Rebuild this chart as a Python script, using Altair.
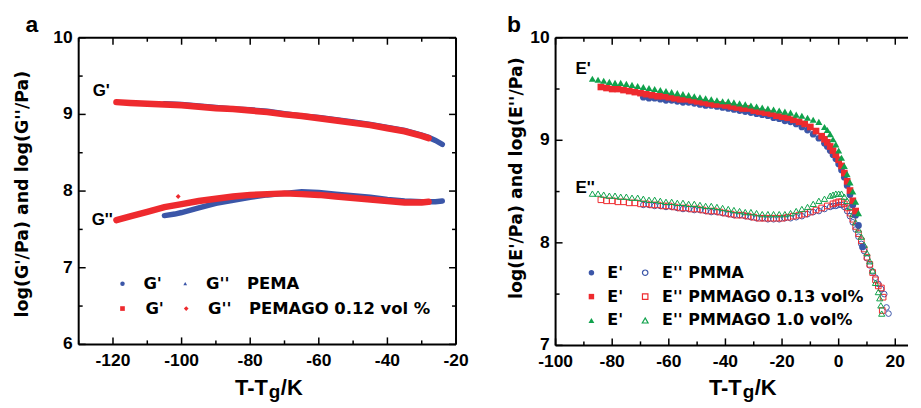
import altair as alt
import pandas as pd

# ---------------- Panel a: PEMA / PEMAGO (shear moduli) ----------------
a_gp_pema_x = [-105, -100, -95, -90, -85, -80, -75, -70, -65, -60, -55, -50, -45, -40, -35, -30, -28, -26, -24]
a_gp_pema_y = [9.14, 9.13, 9.11, 9.09, 9.07, 9.06, 9.04, 9.01, 8.98, 8.96, 8.93, 8.90, 8.87, 8.83, 8.79, 8.73, 8.70, 8.66, 8.61]

a_gpp_pema_x = [-105, -102, -100, -95, -90, -85, -80, -75, -70, -65, -60, -55, -50, -45, -40, -35, -30, -26, -24]
a_gpp_pema_y = [7.68, 7.70, 7.72, 7.78, 7.84, 7.88, 7.92, 7.95, 7.97, 7.99, 7.98, 7.96, 7.94, 7.92, 7.89, 7.87, 7.86, 7.86, 7.87]

a_gp_go_x = [-119, -115, -110, -105, -100, -95, -90, -85, -80, -75, -70, -65, -60, -55, -50, -45, -40, -35, -30, -28]
a_gp_go_y = [9.16, 9.15, 9.14, 9.13, 9.12, 9.10, 9.08, 9.07, 9.05, 9.03, 9.00, 8.98, 8.95, 8.92, 8.89, 8.86, 8.82, 8.78, 8.72, 8.69]

a_gpp_go_x = [-119, -115, -110, -105, -100, -95, -90, -85, -80, -75, -70, -65, -60, -55, -50, -45, -40, -35, -30, -28]
a_gpp_go_y = [7.62, 7.67, 7.73, 7.79, 7.83, 7.87, 7.90, 7.93, 7.95, 7.96, 7.97, 7.96, 7.95, 7.93, 7.91, 7.89, 7.87, 7.85, 7.85, 7.86]

a_outlier_x = [-101]
a_outlier_y = [7.93]

# ---------------- Panel b: PMMA / PMMAGO (tensile moduli) ----------------
b_ep_go10_x = [-87, -85, -83, -81, -79, -77, -75, -73, -71, -69, -67, -65, -63, -61, -59, -57, -55, -53, -51, -49,
               -47, -45, -43, -41, -39, -37, -35, -33, -31, -29, -27, -25, -23, -21, -19, -17, -15, -13, -11, -9,
               -7, -5, -4, -3, -2, -1, 0, 1, 2, 3, 4, 5, 6, 7]
b_ep_go10_y = [9.60, 9.59, 9.58, 9.57, 9.56, 9.56, 9.55, 9.54, 9.53, 9.52, 9.51, 9.50, 9.49, 9.48, 9.47, 9.46, 9.45, 9.44, 9.43, 9.42,
               9.41, 9.40, 9.39, 9.38, 9.38, 9.37, 9.36, 9.35, 9.34, 9.33, 9.32, 9.31, 9.30, 9.29, 9.28, 9.27, 9.25, 9.24, 9.22, 9.20,
               9.18, 9.13, 9.10, 9.06, 9.01, 8.96, 8.90, 8.83, 8.75, 8.67, 8.59, 8.50, 8.40, 8.29]

b_ep_go013_x = [-84, -82, -80, -78, -76, -74, -72, -70, -68, -66, -64, -62, -60, -58, -56, -54, -52, -50, -48, -46,
                -44, -42, -40, -38, -36, -34, -32, -30, -28, -26, -24, -22, -20, -18, -16, -14, -12, -10, -8, -6,
                -5, -4, -3, -2, -1, 0, 1, 2, 3, 4, 5, 6]
b_ep_go013_y = [9.52, 9.51, 9.50, 9.50, 9.49, 9.48, 9.47, 9.46, 9.45, 9.44, 9.43, 9.43, 9.42, 9.41, 9.40, 9.40, 9.39, 9.38, 9.37, 9.36,
                9.35, 9.35, 9.34, 9.33, 9.32, 9.31, 9.31, 9.29, 9.28, 9.27, 9.26, 9.24, 9.23, 9.22, 9.20, 9.18, 9.16, 9.13, 9.09, 9.04,
                9.01, 8.98, 8.94, 8.90, 8.86, 8.81, 8.75, 8.68, 8.60, 8.51, 8.41, 8.31]

b_ep_pmma_x = [-69, -67, -65, -63, -61, -59, -57, -55, -53, -51, -49, -47, -45, -43, -41, -39, -37, -35, -33, -31,
               -29, -27, -25, -23, -21, -19, -17, -15, -13, -11, -9, -7, -5, -4, -3, -2, -1, 0, 1, 2,
               3, 4, 5, 6, 7, 8.4]
b_ep_pmma_y = [9.42, 9.41, 9.41, 9.40, 9.39, 9.39, 9.38, 9.37, 9.37, 9.36, 9.35, 9.34, 9.34, 9.33, 9.32, 9.31, 9.30, 9.29, 9.28, 9.27,
               9.26, 9.25, 9.24, 9.22, 9.21, 9.19, 9.18, 9.16, 9.13, 9.10, 9.06, 9.02, 8.97, 8.94, 8.90, 8.86, 8.82, 8.77, 8.71, 8.64,
               8.56, 8.47, 8.37, 8.27, 8.17, 7.96]

b_epp_go10_x = [-87, -85, -83, -81, -79, -77, -75, -73, -71, -69, -67, -65, -63, -61, -59, -57, -55, -53, -51, -49,
                -47, -45, -43, -41, -39, -37, -35, -33, -31, -29, -27, -25, -23, -21, -19, -17, -15, -13, -11, -9,
                -7, -5, -3, -2, -1, 0, 1, 2, 3, 4, 5, 6, 7, 8, 9, 10, 11, 12, 13, 14,
                14.5, 14.9, 15.2]
b_epp_go10_y = [8.48, 8.48, 8.47, 8.46, 8.46, 8.45, 8.45, 8.44, 8.44, 8.43, 8.42, 8.42, 8.41, 8.40, 8.40, 8.39, 8.39, 8.38, 8.38, 8.37,
                8.36, 8.36, 8.35, 8.34, 8.33, 8.32, 8.31, 8.30, 8.30, 8.29, 8.28, 8.28, 8.28, 8.28, 8.28, 8.29, 8.31, 8.33, 8.35, 8.38,
                8.41, 8.43, 8.46, 8.47, 8.48, 8.48, 8.48, 8.45, 8.41, 8.35, 8.28, 8.20, 8.13, 8.06, 7.98, 7.90, 7.82, 7.73, 7.61, 7.52,
                7.46, 7.39, 7.31]

b_epp_go013_x = [-84, -82, -80, -78, -76, -74, -72, -70, -68, -66, -64, -62, -60, -58, -56, -54, -52, -50, -48, -46,
                 -44, -42, -40, -38, -36, -34, -32, -30, -28, -26, -24, -22, -20, -18, -16, -14, -12, -10, -8, -6,
                 -4, -2, -1, 0, 1, 2, 3, 4, 5, 6, 7, 8, 9, 10, 11, 12, 13, 14,
                 15.1, 15.7, 15.4]
b_epp_go013_y = [8.42, 8.41, 8.41, 8.40, 8.40, 8.39, 8.39, 8.38, 8.38, 8.37, 8.37, 8.36, 8.36, 8.35, 8.34, 8.34, 8.33, 8.33, 8.32, 8.31,
                 8.31, 8.30, 8.29, 8.28, 8.27, 8.27, 8.26, 8.25, 8.24, 8.24, 8.24, 8.24, 8.24, 8.25, 8.26, 8.27, 8.28, 8.30, 8.32, 8.34,
                 8.36, 8.38, 8.39, 8.40, 8.40, 8.38, 8.34, 8.29, 8.23, 8.16, 8.09, 8.02, 7.94, 7.86, 7.79, 7.71, 7.64, 7.58,
                 7.56, 7.47, 7.34]

b_epp_pmma_x = [-69, -67, -65, -63, -61, -59, -57, -55, -53, -51, -49, -47, -45, -43, -41, -39, -37, -35, -33, -31,
                -29, -27, -25, -23, -21, -19, -17, -15, -13, -11, -9, -7, -5, -3, -2, -1, 0, 1, 2, 3,
                4, 5, 6, 7, 8, 9, 10, 11, 12, 13, 14, 15, 16.1, 16.9, 17.6]
b_epp_pmma_y = [8.37, 8.37, 8.36, 8.36, 8.35, 8.35, 8.34, 8.33, 8.33, 8.32, 8.32, 8.31, 8.30, 8.30, 8.29, 8.28, 8.27, 8.27, 8.26, 8.25,
                8.24, 8.24, 8.23, 8.23, 8.23, 8.24, 8.24, 8.25, 8.26, 8.28, 8.30, 8.31, 8.33, 8.35, 8.36, 8.36, 8.37, 8.37, 8.35, 8.31,
                8.26, 8.20, 8.13, 8.06, 7.99, 7.92, 7.85, 7.78, 7.72, 7.66, 7.60, 7.55, 7.50, 7.37, 7.31]

# axis ranges and ticks (major = labelled, minor = unlabelled)
a_x_range = [-130, -20]
a_y_range = [6, 10]
a_x_major = [-120, -100, -80, -60, -40, -20]
a_x_minor = [-130, -110, -90, -70, -50, -30]
a_y_major = [6, 7, 8, 9, 10]
a_y_minor = [6.5, 7.5, 8.5, 9.5]
b_x_range = [-100, 24.5]
b_y_range = [7, 10]
b_x_major = [-100, -80, -60, -40, -20, 0, 20]
b_x_minor = [-90, -70, -50, -30, -10, 10]
b_y_major = [7, 8, 9, 10]
b_y_minor = [7.5, 8.5, 9.5]

# ---------------- styling ----------------
BLUE = "#3b56a8"
RED = "#ee2a2e"
GREEN = "#10a24c"
LW, LH = 379, 308
RW, RH = 354, 309
MAJ, MIN = 7, 4          # tick lengths in pixels
LABEL_FONT = "Liberation Sans"
TEXT_FONT = "DejaVu Sans"

# symbol paths (unit space, scaled by sqrt(size)/2): a stroke starting at the point
UP, DOWN, RIGHT, LEFT = "M0,0L0,-1", "M0,0L0,1", "M0,0L1,0", "M0,0L-1,0"


def frame(xs, ys):
    return pd.DataFrame({"x": xs, "y": ys})


def enc(chart, xs, ys):
    return chart.encode(x=alt.X("x:Q", scale=xs, axis=None), y=alt.Y("y:Q", scale=ys, axis=None))


def stroke_marks(xv, yv, path, length, width, xs, ys):
    """Short straight strokes anchored at data positions, drawn as symbols of the given pixel length."""
    return alt.Chart(frame(xv, yv)).mark_point(
        shape=path, size=(2 * length) ** 2, filled=False, color="black",
        strokeWidth=width, opacity=1).encode(
        x=alt.X("x:Q", scale=xs, axis=None), y=alt.Y("y:Q", scale=ys, axis=None))


def axis_layers(xr, yr, xmaj, xmin, ymaj, ymin, W, H, right_side, xs, ys):
    lay = []
    for vals, L in ((xmaj, MAJ), (xmin, MIN)):
        lay.append(stroke_marks(vals, [yr[0]] * len(vals), UP, L, 1.5, xs, ys))
        lay.append(stroke_marks(vals, [yr[1]] * len(vals), DOWN, L, 1.5, xs, ys))
    for vals, L in ((ymaj, MAJ), (ymin, MIN)):
        lay.append(stroke_marks([xr[0]] * len(vals), vals, RIGHT, L, 1.5, xs, ys))
        if right_side:
            lay.append(stroke_marks([xr[1]] * len(vals), vals, LEFT, L, 1.5, xs, ys))
    # frame edges
    lay.append(stroke_marks([xr[0]], [yr[0]], RIGHT, W, 2, xs, ys))   # bottom
    lay.append(stroke_marks([xr[0]], [yr[0]], UP, H, 2, xs, ys))      # left
    lay.append(stroke_marks([xr[0]], [yr[1]], RIGHT, W, 2, xs, ys))   # top
    if right_side:
        lay.append(stroke_marks([xr[1]], [yr[0]], UP, H, 2, xs, ys))  # right
    # tick labels, placed through the scales just outside the frame
    kx = (xr[1] - xr[0]) / W
    ky = (yr[1] - yr[0]) / H
    xl = pd.DataFrame({"x": xmaj, "y": [yr[0] - 21.5 * ky] * len(xmaj), "t": [str(v) for v in xmaj]})
    yl = pd.DataFrame({"x": [xr[0] - 6 * kx] * len(ymaj), "y": ymaj, "t": [str(v) for v in ymaj]})
    lay.append(alt.Chart(xl).mark_text(align="center", baseline="alphabetic", font=LABEL_FONT, fontSize=17.5,
                                       fontWeight="bold", color="black").encode(
        x=alt.X("x:Q", scale=xs, axis=None), y=alt.Y("y:Q", scale=ys, axis=None), text="t:N"))
    lay.append(alt.Chart(yl).mark_text(align="right", baseline="middle", font=LABEL_FONT, fontSize=17.5,
                                       fontWeight="bold", color="black").encode(
        x=alt.X("x:Q", scale=xs, axis=None), y=alt.Y("y:Q", scale=ys, axis=None), text="t:N"))
    return lay


def text(s, x, y, size, font=LABEL_FONT, align="left", baseline="alphabetic", angle=0):
    return alt.Chart(pd.DataFrame({"t": [s]})).mark_text(
        align=align, baseline=baseline, font=font, fontSize=size, fontWeight="bold",
        color="black", angle=angle).encode(x=alt.value(x), y=alt.value(y), text="t:N")


def sym(x, y, shape, color, filled, size):
    return alt.Chart(pd.DataFrame({"t": [0]})).mark_point(
        shape=shape, filled=filled, color=color, size=size, opacity=1,
        strokeWidth=1.2).encode(x=alt.value(x), y=alt.value(y))


# ---------------- panel a ----------------
axs = alt.Scale(domain=a_x_range, nice=False, zero=False)
ays = alt.Scale(domain=a_y_range, nice=False, zero=False)

a_layers = [
    enc(alt.Chart(frame(a_gp_pema_x, a_gp_pema_y)).mark_line(color=BLUE, strokeWidth=5.5, strokeCap="round"), axs, ays),
    enc(alt.Chart(frame(a_gpp_pema_x, a_gpp_pema_y)).mark_line(color=BLUE, strokeWidth=5.5, strokeCap="round"), axs, ays),
    enc(alt.Chart(frame(a_gp_go_x, a_gp_go_y)).mark_line(color=RED, strokeWidth=6.5, strokeCap="round"), axs, ays),
    enc(alt.Chart(frame(a_gpp_go_x, a_gpp_go_y)).mark_line(color=RED, strokeWidth=6.5, strokeCap="round"), axs, ays),
    enc(alt.Chart(frame(a_outlier_x, a_outlier_y)).mark_point(shape="diamond", filled=True, color=RED, size=25, opacity=1),
        axs, ays),
] + axis_layers(a_x_range, a_y_range, a_x_major, a_x_minor, a_y_major, a_y_minor, LW, LH, True, axs, ays) + [
    text("a", -47, -6, 23, align="center"),
    text("log(G'/Pa) and log(G''/Pa)", -56, 157, 17.5, font=TEXT_FONT, align="center", baseline="middle", angle=270),
    text("G'", 14, 59, 17),
    text("G''", 13, 188, 17),
    text("T-T", 157, 359, 22),
    text("g", 191, 362, 19),
    text("/K", 203, 359, 22),
    sym(44, 247, "circle", BLUE, True, 20),
    text("G'", 65, 247, 16.5, font=TEXT_FONT, baseline="middle"),
    sym(107, 247, "triangle-up", BLUE, True, 14),
    text("G''", 128, 247, 16.5, font=TEXT_FONT, baseline="middle"),
    text("PEMA", 169, 247, 16.5, font=TEXT_FONT, baseline="middle"),
    sym(44, 272, "square", RED, True, 22),
    text("G'", 67, 272, 16.5, font=TEXT_FONT, baseline="middle"),
    sym(108, 272, "diamond", RED, True, 22),
    text("G''", 130, 272, 16.5, font=TEXT_FONT, baseline="middle"),
    text("PEMAGO 0.12 vol %", 171, 272, 16.5, font=TEXT_FONT, baseline="middle"),
]
left = alt.layer(*a_layers).properties(width=LW, height=LH)

# ---------------- panel b ----------------
bxs = alt.Scale(domain=b_x_range, nice=False, zero=False)
bys = alt.Scale(domain=b_y_range, nice=False, zero=False)

b_layers = [
    enc(alt.Chart(frame(b_epp_pmma_x, b_epp_pmma_y)).mark_point(shape="circle", filled=False, color=BLUE, size=32, strokeWidth=1, opacity=1), bxs, bys),
    enc(alt.Chart(frame(b_epp_go013_x, b_epp_go013_y)).mark_point(shape="square", filled=False, color=RED, size=32, strokeWidth=1, opacity=1), bxs, bys),
    enc(alt.Chart(frame(b_epp_go10_x, b_epp_go10_y)).mark_point(shape="triangle-up", filled=False, color=GREEN, size=38, strokeWidth=1, opacity=1), bxs, bys),
    enc(alt.Chart(frame(b_ep_pmma_x, b_ep_pmma_y)).mark_point(shape="circle", filled=True, color=BLUE, size=45, opacity=1), bxs, bys),
    enc(alt.Chart(frame(b_ep_go013_x, b_ep_go013_y)).mark_point(shape="square", filled=True, color=RED, size=45, opacity=1), bxs, bys),
    enc(alt.Chart(frame(b_ep_go10_x, b_ep_go10_y)).mark_point(shape="triangle-up", filled=True, color=GREEN, size=50, opacity=1), bxs, bys),
] + axis_layers(b_x_range, b_y_range, b_x_major, b_x_minor, b_y_major, b_y_minor, RW, RH, False, bxs, bys) + [
    text("b", -41.7, -6, 23, align="center"),
    text("log(E'/Pa) and log(E''/Pa)", -39, 141, 17.5, font=TEXT_FONT, align="center", baseline="middle", angle=270),
    text("E'", 20, 36, 17),
    text("E''", 20, 156, 17),
    text("T-T", 154, 359, 22),
    text("g", 188, 362, 19),
    text("/K", 200, 359, 22),
    sym(36, 236, "circle", BLUE, True, 30),
    text("E'", 52, 236, 16, font=TEXT_FONT, baseline="middle"),
    sym(90, 236, "circle", BLUE, False, 30),
    text("E'' PMMA", 107, 236, 16, font=TEXT_FONT, baseline="middle"),
    sym(36, 260, "square", RED, True, 30),
    text("E'", 52, 260, 16, font=TEXT_FONT, baseline="middle"),
    sym(90, 260, "square", RED, False, 30),
    text("E'' PMMAGO 0.13 vol%", 107, 260, 16, font=TEXT_FONT, baseline="middle"),
    sym(36, 284, "triangle-up", GREEN, True, 34),
    text("E'", 52, 284, 16, font=TEXT_FONT, baseline="middle"),
    sym(90, 284, "triangle-up", GREEN, False, 34),
    text("E'' PMMAGO 1.0 vol%", 107, 284, 16, font=TEXT_FONT, baseline="middle"),
]
right = alt.layer(*b_layers).properties(width=RW, height=RH)

chart = alt.hconcat(left, right, spacing=100, bounds="flush").properties(
    padding={"left": 5, "top": 4, "right": 0, "bottom": 0}
).configure(background="white").configure_view(stroke="transparent")

chart.save("out.html", embed_options={"renderer": "svg", "actions": False})
